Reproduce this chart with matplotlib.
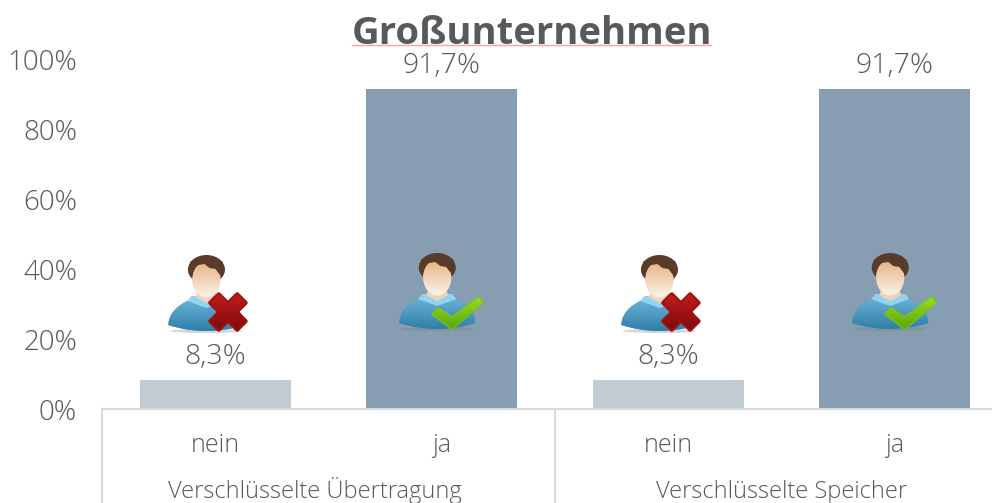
import numpy as np
import matplotlib
matplotlib.use('Agg')
import matplotlib.pyplot as plt
from matplotlib.colors import LinearSegmentedColormap
from matplotlib.lines import Line2D
from matplotlib.patches import Ellipse, PathPatch, Polygon
from matplotlib.path import Path

# Daten
kategorien = ['nein', 'ja', 'nein', 'ja']
gruppen = ['Verschlüsselte Übertragung', 'Verschlüsselte Speicher']
werte = [8.3, 91.7, 8.3, 91.7]
werte_text = ['8,3%', '91,7%', '8,3%', '91,7%']
y_ticks = [0, 20, 40, 60, 80, 100]
symbole = ['x', 'ok', 'x', 'ok']

B, H = 992, 503
links, unten, oben = 102, 409, 60
kat_breite = 226.5
textfarbe = '#595959'
linienfarbe = '#d9d9d9'
schrift = ['Open Sans', 'DejaVu Sans']

plt.rcParams['font.family'] = schrift
plt.rcParams['font.weight'] = 'light'

fig = plt.figure(figsize=(B / 100, H / 100), dpi=100)
ax = fig.add_axes([links / B, (H - unten) / H, (B - links) / B, (unten - oben) / H])

farben = ['#c2ccd3', '#879db1', '#c2ccd3', '#879db1']
x = np.arange(len(werte))
balken = ax.bar(x, werte, width=2 / 3, color=farben)
ax.set_xlim(-0.5, -0.5 + (B - links) / kat_breite)
ax.set_ylim(0, 100)

for s in ['top', 'right', 'left']:
    ax.spines[s].set_visible(False)
ax.spines['bottom'].set_color(linienfarbe)
ax.spines['bottom'].set_linewidth(1.5)

ax.set_yticks(y_ticks)
ax.set_yticklabels([f'{t}%' for t in y_ticks], fontsize=20, color=textfarbe)
ax.tick_params(axis='y', length=0, pad=18)
ax.set_xticks(x)
ax.set_xticklabels(kategorien, fontsize=18, color=textfarbe)
ax.tick_params(axis='x', length=0, pad=17)

# Werte ueber den Balken
for xi, w, t in zip(x, werte, werte_text):
    ax.annotate(t, (xi, w), xytext=(0, 11.5), textcoords='offset points', ha='center',
                va='baseline', fontsize=20.5, color=textfarbe, annotation_clip=False)

# Gruppenachse
tr = ax.get_xaxis_transform()
tief = -(H - unten) / (unten - oben)
for xl in [-0.5, 1.5]:
    ax.plot([xl, xl], [0, tief], transform=tr, color=linienfarbe, lw=1.5, clip_on=False)
for xg, g in zip([0.44, 2.5], gruppen):
    ax.text(xg, -89.5 / (unten - oben), g, transform=tr, ha='center', va='baseline',
            fontsize=17, color=textfarbe)

fig.text(531.5 / B, 1 - 44 / H, 'Großunternehmen', ha='center', va='baseline', fontsize=27.5,
         fontweight='bold', color=textfarbe)
fig.add_artist(Line2D([352 / B, 711 / B], [1 - 44.5 / H] * 2, color='#f4a6a6', lw=1))

# Overlay in Pixeln fuer die Personen-Symbole
ov = fig.add_axes([0, 0, 1, 1], zorder=5)
ov.patch.set_alpha(0)
ov.axis('off')


def verlauf(patch, x0, x1, y0, y1, c_oben, c_unten):
    cmap = LinearSegmentedColormap.from_list('v', [c_oben, c_unten])
    ov.add_patch(patch)
    im = ov.imshow(np.linspace(0, 1, 64).reshape(-1, 1), cmap=cmap, extent=(x0, x1, y1, y0),
                   aspect='auto', zorder=patch.get_zorder() + 0.1)
    im.set_clip_path(patch)


def person(cx, oy, art):
    ov.add_patch(Ellipse((cx, oy + 76), 74, 4, color='#777777', alpha=0.3, lw=0, zorder=1))
    # Koerper
    v = [(-38, 70), (-38, 56), (-24, 47), (-12, 43), (12, 43), (24, 47), (38, 56), (38, 70),
         (26, 74), (12, 76), (0, 76), (-12, 76), (-26, 74), (-38, 70), (-38, 70)]
    c = [Path.MOVETO] + [Path.CURVE4] * 3 + [Path.LINETO] + [Path.CURVE4] * 9 + [Path.CLOSEPOLY]
    body = PathPatch(Path([(cx + a, oy + b) for a, b in v], c), lw=0, fc='#4b9ac4', zorder=2)
    verlauf(body, cx - 38, cx + 38, oy + 43, oy + 76, '#6db4d8', '#2f7fa9')
    ov.add_patch(Polygon([(cx - 15, oy + 41), (cx + 15, oy + 41), (cx + 19, oy + 46), (cx, oy + 53),
                          (cx - 19, oy + 46)], fc='#93d3f2', lw=0, zorder=3))
    ov.add_patch(Polygon([(cx - 8, oy + 34), (cx + 8, oy + 34), (cx + 11, oy + 42), (cx, oy + 48),
                          (cx - 11, oy + 42)], fc='#f2d2b4', lw=0, zorder=3))
    # Kopf
    ov.add_patch(Ellipse((cx, oy + 14.5), 37, 29, fc='#5a3b29', lw=0, zorder=4))
    ov.add_patch(Ellipse((cx, oy + 16), 36, 23, fc='#5a3b29', lw=0, zorder=4))
    gesicht = Ellipse((cx, oy + 24.5), 28, 36, fc='#f2d2b4', lw=0, zorder=4.5)
    verlauf(gesicht, cx - 15, cx + 15, oy + 6, oy + 43, '#e6b280', '#fbf4ec')
    hv = [(-15, 22), (-14, 14), (-8, 10), (-2, 9), (3, 13), (9, 14), (15, 22), (16, 6), (-16, 6)]
    ov.add_patch(Polygon([(cx + a, oy + b) for a, b in hv], fc='#5a3b29', lw=0, zorder=5))
    # Symbol
    if art == 'x':
        mx, my, a, t = cx + 21.5, oy + 57, 19, 6
        pts = [(-t, -a), (t, -a), (t, -t), (a, -t), (a, t), (t, t), (t, a), (-t, a), (-t, t),
               (-a, t), (-a, -t), (-t, -t)]
        w = np.cos(np.pi / 4)
        pts = [(mx + w * (p - q), my + w * (p + q)) for p, q in pts]
        ov.add_patch(Polygon(pts, fc='#9e1010', ec='#a01212', lw=3, joinstyle='round', zorder=6))
        verlauf(Polygon(pts, lw=0, fc='#9e1010', zorder=6.2), mx - 20, mx + 20, my - 19, my + 19,
                '#c21d1d', '#7d0a0a')
    else:
        pts = [(-5.3, 61), (0.7, 55.3), (14.7, 64.3), (41.3, 44.3), (45.7, 49.3), (14.7, 76)]
        pts = [(cx + a, oy + b) for a, b in pts]
        ov.add_patch(Polygon(pts, fc='#7cc417', ec='#7cc417', lw=1.5, joinstyle='round', zorder=6))
        verlauf(Polygon(pts, lw=0, fc='#7cc417', zorder=6.2), cx - 6, cx + 46, oy + 44, oy + 76,
                '#96dc1e', '#5aa80f')


for xi, art in zip(x, symbole):
    px = links + (xi + 0.5) * kat_breite
    if art == 'x':
        person(px - 8.8, 255, art)
    else:
        person(px - 4.5, 253, art)

ov.set_xlim(0, B)
ov.set_ylim(H, 0)

fig.savefig('out.png', dpi=100)
